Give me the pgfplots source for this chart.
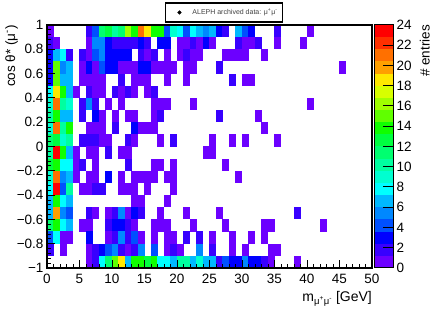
\documentclass[border=0pt]{standalone}
\usepackage{fontspec}
\setmainfont{Liberation Sans}
\usepackage{pgfplots}
\usepackage{pgfplotstable}
\pgfplotsset{compat=1.18}
% one cell of the 50 x 20 histogram, 1 GeV x 0.1 in cos theta
\pgfdeclareplotmark{cell}{\pgfpathrectangle{\pgfpoint{-3.3pt}{-6.12pt}}{\pgfpoint{6.6pt}{12.24pt}}\pgfusepathqfill}
\pgfdeclareplotmark{band}{\pgfpathrectangle{\pgfpoint{-9.5pt}{-6.075pt}}{\pgfpoint{19pt}{12.15pt}}\pgfusepathqfill}
\pgfplotsset{
  rootmap/.style={
    colormap={rootpal}{
      rgb255=(108,0,255) rgb255=(56,0,255) rgb255=(0,0,255) rgb255=(0,80,255)
      rgb255=(0,136,255) rgb255=(0,184,255) rgb255=(0,255,255) rgb255=(0,255,208)
      rgb255=(0,255,160) rgb255=(0,255,112) rgb255=(0,255,64) rgb255=(16,255,0)
      rgb255=(96,255,0) rgb255=(160,255,0) rgb255=(216,255,0) rgb255=(255,232,0)
      rgb255=(255,160,0) rgb255=(255,112,0) rgb255=(255,48,0) rgb255=(255,0,0)
    },
    colormap access=piecewise constant,
    point meta min=0, point meta max=24,
  }
}
\pgfplotstableread[row sep=crcr]{
x y e\\
0.5 .95 1\\ 6.5 .95 2\\ 7.5 .95 4\\ 8.5 .95 11\\ 9.5 .95 13\\ 10.5 .95 10\\ 11.5 .95 11\\ 12.5 .95 16\\ 13.5 .95 14\\ 14.5 .95 21\\ 15.5 .95 19\\ 16.5 .95 14\\ 17.5 .95 14\\ 18.5 .95 4\\ 19.5 .95 9\\ 20.5 .95 8\\ 21.5 .95 4\\ 22.5 .95 8\\ 23.5 .95 7\\ 24.5 .95 5\\ 25.5 .95 7\\ 26.5 .95 3\\ 27.5 .95 2\\ 29.5 .95 7\\ 30.5 .95 4\\ 31.5 .95 3\\ 35.5 .95 2\\ 40.5 .95 1\\
0.5 .85 2\\ 1.5 .85 1\\ 6.5 .85 1\\ 7.5 .85 5\\ 8.5 .85 5\\ 9.5 .85 3\\ 10.5 .85 2\\ 11.5 .85 2\\ 12.5 .85 2\\ 13.5 .85 2\\ 14.5 .85 3\\ 15.5 .85 2\\ 17.5 .85 3\\ 18.5 .85 3\\ 20.5 .85 1\\ 21.5 .85 1\\ 22.5 .85 2\\ 23.5 .85 1\\ 24.5 .85 3\\ 25.5 .85 1\\ 29.5 .85 2\\ 30.5 .85 1\\ 31.5 .85 1\\ 32.5 .85 2\\ 35.5 .85 1\\ 39.5 .85 1\\
0.5 .75 3\\ 1.5 .75 7\\ 2.5 .75 8\\ 3.5 .75 2\\ 5.5 .75 2\\ 6.5 .75 1\\ 7.5 .75 4\\ 8.5 .75 5\\ 9.5 .75 3\\ 10.5 .75 3\\ 11.5 .75 3\\ 12.5 .75 3\\ 14.5 .75 2\\ 15.5 .75 1\\ 16.5 .75 2\\ 18.5 .75 1\\ 20.5 .75 1\\ 21.5 .75 2\\ 22.5 .75 1\\ 23.5 .75 1\\ 27.5 .75 1\\ 28.5 .75 1\\ 29.5 .75 1\\ 30.5 .75 1\\ 33.5 .75 1\\
0.5 .65 3\\ 1.5 .65 15\\ 2.5 .65 5\\ 3.5 .65 7\\ 5.5 .65 1\\ 6.5 .65 3\\ 7.5 .65 1\\ 8.5 .65 4\\ 9.5 .65 3\\ 10.5 .65 3\\ 11.5 .65 1\\ 12.5 .65 1\\ 13.5 .65 1\\ 14.5 .65 3\\ 15.5 .65 3\\ 16.5 .65 1\\ 17.5 .65 1\\ 18.5 .65 1\\ 19.5 .65 1\\ 21.5 .65 1\\ 22.5 .65 1\\ 26.5 .65 2\\ 45.5 .65 1\\
0.5 .55 3\\ 1.5 .55 15\\ 2.5 .55 7\\ 3.5 .55 7\\ 5.5 .55 1\\ 6.5 .55 1\\ 7.5 .55 1\\ 8.5 .55 1\\ 11.5 .55 2\\ 13.5 .55 1\\ 14.5 .55 1\\ 15.5 .55 1\\ 18.5 .55 1\\ 21.5 .55 1\\ 28.5 .55 2\\ 30.5 .55 1\\ 31.5 .55 1\\
0.5 .45 8\\ 1.5 .45 19\\ 2.5 .45 14\\ 3.5 .45 7\\ 4.5 .45 1\\ 6.5 .45 2\\ 7.5 .45 1\\ 8.5 .45 1\\ 10.5 .45 2\\ 11.5 .45 1\\ 12.5 .45 2\\ 13.5 .45 1\\ 15.5 .45 1\\ 16.5 .45 2\\
0.5 .35 9\\ 1.5 .35 21\\ 2.5 .35 10\\ 3.5 .35 9\\ 5.5 .35 2\\ 6.5 .35 5\\ 7.5 .35 2\\ 9.5 .35 1\\ 11.5 .35 1\\ 16.5 .35 1\\ 17.5 .35 1\\ 18.5 .35 1\\ 22.5 .35 1\\ 40.5 .35 1\\
0.5 .25 10\\ 1.5 .25 14\\ 2.5 .25 7\\ 3.5 .25 7\\ 5.5 .25 2\\ 7.5 .25 3\\ 8.5 .25 1\\ 10.5 .25 1\\ 12.5 .25 1\\ 13.5 .25 1\\ 16.5 .25 1\\ 17.5 .25 2\\ 26.5 .25 2\\ 32.5 .25 1\\
0.5 .15 9\\ 1.5 .15 21\\ 2.5 .15 10\\ 3.5 .15 14\\ 6.5 .15 1\\ 7.5 .15 1\\ 8.5 .15 1\\ 10.5 .15 2\\ 13.5 .15 3\\ 14.5 .15 1\\ 15.5 .15 1\\ 16.5 .15 1\\ 33.5 .15 1\\
0.5 .05 11\\ 1.5 .05 13\\ 2.5 .05 9\\ 3.5 .05 10\\ 5.5 .05 2\\ 6.5 .05 2\\ 7.5 .05 2\\ 8.5 .05 1\\ 9.5 .05 1\\ 12.5 .05 2\\ 13.5 .05 1\\ 17.5 .05 1\\ 19.5 .05 2\\ 25.5 .05 1\\ 28.5 .05 1\\ 30.5 .05 1\\ 35.5 .05 1\\
0.5 -.05 10\\ 1.5 -.05 23\\ 2.5 -.05 14\\ 3.5 -.05 7\\ 4.5 -.05 1\\ 6.5 -.05 1\\ 7.5 -.05 1\\ 9.5 -.05 2\\ 11.5 -.05 1\\ 12.5 -.05 1\\ 24.5 -.05 1\\ 25.5 -.05 1\\
0.5 -.15 13\\ 1.5 -.15 14\\ 2.5 -.15 8\\ 3.5 -.15 8\\ 4.5 -.15 1\\ 5.5 -.15 2\\ 7.5 -.15 1\\ 12.5 -.15 2\\ 16.5 -.15 1\\ 17.5 -.15 1\\ 19.5 -.15 1\\ 27.5 -.15 1\\
0.5 -.25 9\\ 1.5 -.25 21\\ 2.5 -.25 5\\ 3.5 -.25 7\\ 4.5 -.25 1\\ 6.5 -.25 1\\ 7.5 -.25 1\\ 9.5 -.25 3\\ 11.5 -.25 1\\ 13.5 -.25 1\\ 14.5 -.25 1\\ 15.5 -.25 1\\ 16.5 -.25 1\\ 18.5 -.25 1\\ 19.5 -.25 1\\ 29.5 -.25 1\\
0.5 -.35 8\\ 1.5 -.35 23\\ 2.5 -.35 4\\ 3.5 -.35 10\\ 5.5 -.35 1\\ 6.5 -.35 1\\ 7.5 -.35 2\\ 8.5 -.35 2\\ 11.5 -.35 1\\ 12.5 -.35 1\\ 13.5 -.35 1\\ 15.5 -.35 1\\ 19.5 -.35 1\\
0.5 -.45 7\\ 1.5 -.45 14\\ 2.5 -.45 8\\ 3.5 -.45 7\\ 13.5 -.45 1\\ 14.5 -.45 1\\ 18.5 -.45 1\\
0.5 -.55 7\\ 1.5 -.55 20\\ 2.5 -.55 5\\ 3.5 -.55 4\\ 6.5 -.55 2\\ 7.5 -.55 1\\ 9.5 -.55 1\\ 10.5 -.55 2\\ 11.5 -.55 5\\ 12.5 -.55 1\\ 13.5 -.55 3\\ 14.5 -.55 2\\ 17.5 -.55 1\\ 21.5 -.55 1\\ 26.5 -.55 1\\ 38.5 -.55 2\\
0.5 -.65 11\\ 1.5 -.65 14\\ 2.5 -.65 8\\ 3.5 -.65 7\\ 5.5 -.65 1\\ 6.5 -.65 1\\ 9.5 -.65 2\\ 10.5 -.65 3\\ 11.5 -.65 3\\ 12.5 -.65 2\\ 13.5 -.65 1\\ 16.5 -.65 1\\ 17.5 -.65 1\\ 18.5 -.65 1\\ 22.5 -.65 1\\ 27.5 -.65 1\\ 33.5 -.65 1\\ 34.5 -.65 1\\ 42.5 -.65 1\\
0.5 -.75 4\\ 1.5 -.75 8\\ 2.5 -.75 1\\ 3.5 -.75 1\\ 6.5 -.75 3\\ 9.5 -.75 1\\ 10.5 -.75 2\\ 11.5 -.75 5\\ 12.5 -.75 2\\ 13.5 -.75 4\\ 14.5 -.75 1\\ 16.5 -.75 1\\ 18.5 -.75 1\\ 19.5 -.75 1\\ 21.5 -.75 2\\ 23.5 -.75 2\\ 25.5 -.75 1\\ 28.5 -.75 1\\ 31.5 -.75 1\\ 33.5 -.75 1\\
0.5 -.85 2\\ 2.5 -.85 1\\ 6.5 -.85 1\\ 7.5 -.85 2\\ 8.5 -.85 3\\ 9.5 -.85 4\\ 10.5 -.85 5\\ 11.5 -.85 2\\ 12.5 -.85 1\\ 13.5 -.85 2\\ 14.5 -.85 5\\ 16.5 -.85 4\\ 18.5 -.85 1\\ 19.5 -.85 2\\ 20.5 -.85 1\\ 23.5 -.85 5\\ 25.5 -.85 2\\ 28.5 -.85 1\\ 30.5 -.85 1\\ 34.5 -.85 1\\ 35.5 -.85 1\\
6.5 -.95 1\\ 7.5 -.95 2\\ 8.5 -.95 8\\ 9.5 -.95 11\\ 10.5 -.95 15\\ 11.5 -.95 19\\ 12.5 -.95 7\\ 13.5 -.95 14\\ 14.5 -.95 14\\ 15.5 -.95 13\\ 16.5 -.95 14\\ 17.5 -.95 8\\ 18.5 -.95 8\\ 19.5 -.95 7\\ 20.5 -.95 10\\ 21.5 -.95 10\\ 22.5 -.95 7\\ 23.5 -.95 9\\ 24.5 -.95 7\\ 25.5 -.95 7\\ 26.5 -.95 2\\ 27.5 -.95 4\\ 28.5 -.95 3\\ 29.5 -.95 3\\ 30.5 -.95 5\\ 31.5 -.95 3\\ 32.5 -.95 3\\ 33.5 -.95 2\\ 34.5 -.95 1\\ 38.5 -.95 1\\
}\hist
\pgfplotstableread[row sep=crcr]{
x y\\
0.5 0.6\\ 0.5 1.8\\ 0.5 3.0\\ 0.5 4.2\\ 0.5 5.4\\ 0.5 6.6\\ 0.5 7.8\\ 0.5 9.0\\ 0.5 10.2\\ 0.5 11.4\\
0.5 12.6\\ 0.5 13.8\\ 0.5 15.0\\ 0.5 16.2\\ 0.5 17.4\\ 0.5 18.6\\ 0.5 19.8\\ 0.5 21.0\\ 0.5 22.2\\ 0.5 23.4\\
}\palette
\begin{document}
\begin{tikzpicture}[x=1pt,y=1pt]
\useasboundingbox (0,0) rectangle (432,312);
% cells of the histogram
\begin{axis}[
  at={(47pt,44pt)}, anchor=south west,
  scale only axis, width=325pt, height=243pt, rootmap, hide axis,
  xmin=0, xmax=50, ymin=-1, ymax=1,
]
\addplot[scatter, only marks, mark=cell, point meta=explicit,
  scatter/use mapped color={draw=none, fill=mapped color}]
  table[x=x, y=y, meta=e] {\hist};
\end{axis}
% frame, ticks, labels and legend above the cells
\begin{axis}[
  at={(47pt,44pt)}, anchor=south west,
  scale only axis, width=325pt, height=243pt,
  xmin=0, xmax=50, ymin=-1, ymax=1,
  xtick={0,5,...,50},
  ytick={-1,-0.8,-0.6,-0.4,-0.2,0,0.2,0.4,0.6,0.8,1},
  yticklabels={−1,−0.8,−0.6,−0.4,−0.2,0,0.2,0.4,0.6,0.8,1},
  minor x tick num=4, minor y tick num=4,
  tick pos=left, tick align=inside,
  axis line style={line width=1.2pt},
  every tick/.style={black, line width=0.9pt},
  major tick length=8pt, minor tick length=4pt,
  tick label style={font=\fontsize{13.5}{14}\selectfont},
  /pgf/number format/assume math mode=true,
  xticklabel style={yshift=-3pt},
  xlabel={m\raisebox{-3pt}{\fontsize{9.5}{9.5}\selectfont μ\textsuperscript{+}μ\textsuperscript{-}} [GeV]},
  xlabel style={at={(axis description cs:1,0)}, anchor=north east, yshift=-23pt, inner sep=0pt,
    font=\fontsize{14}{15}\selectfont},
  ylabel={cos θ* (μ\textsuperscript{-})},
  ylabel style={at={(axis description cs:-0.089,1)}, anchor=south east, inner sep=0pt,
    font=\fontsize{13.5}{14}\selectfont},
  legend image code/.code={\path[draw=none] (0,0) -- (22pt,0); \draw[draw=none,#1] plot[mark=*,mark size=1.8pt,mark options={fill=black,draw=black}] coordinates {(11pt,0)};},
  legend style={at={(177pt,255.5pt)}, anchor=center, draw=black, line width=1.8pt,
    font=\fontsize{7}{8}\selectfont, text=black!75, inner xsep=3pt, inner ysep=3.5pt,
    cells={anchor=west}, legend cell align=left},
]
\addlegendimage{only marks, mark=*, black, mark size=1.8pt, line width=0.4pt}
\addlegendentry{ALEPH archived data: μ\textsuperscript{+}μ\textsuperscript{-}}
\end{axis}
% palette
\begin{axis}[
  at={(374pt,44pt)}, anchor=south west,
  scale only axis, width=19pt, height=243pt, rootmap, hide axis,
  xmin=0, xmax=1, ymin=0, ymax=24,
]
\addplot[scatter, only marks, mark=band, point meta=y,
  scatter/use mapped color={draw=none, fill=mapped color}]
  table[x=x, y=y] {\palette};
\end{axis}
\begin{axis}[
  at={(374pt,44pt)}, anchor=south west,
  scale only axis, width=19pt, height=243pt,
  xmin=0, xmax=1, ymin=0, ymax=24,
  xtick=\empty,
  ytick={0,2,...,24},
  ytick pos=right, tick align=inside,
  axis line style={line width=1pt},
  every tick/.style={black, line width=1pt},
  major tick length=10pt,
  tick label style={font=\fontsize{13.5}{14}\selectfont},
  /pgf/number format/assume math mode=true,
  ylabel={\# entries},
  ylabel style={at={(axis description cs:2.95,1)}, anchor=south east, inner sep=0pt,
    font=\fontsize{13.5}{14}\selectfont},
]
\end{axis}
\end{tikzpicture}
\end{document}
